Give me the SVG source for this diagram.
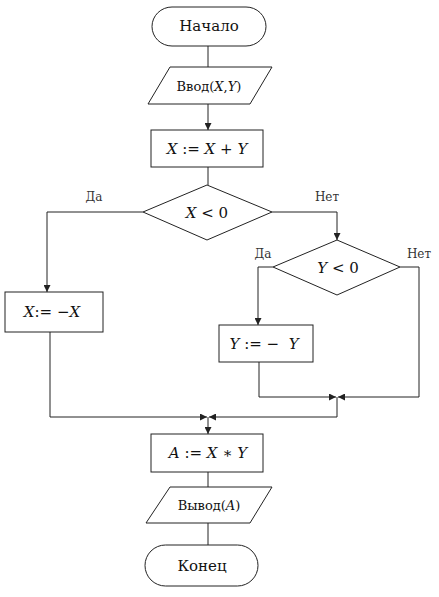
<svg xmlns="http://www.w3.org/2000/svg" width="439" height="597" viewBox="0 0 439 597">
<defs>
<style>
.s{fill:#fff;stroke:#222;stroke-width:1}
.c{fill:none;stroke:#222;stroke-width:1}
.t{fill:#111;text-anchor:middle;font-family:'DejaVu Serif',serif}
.m{font-size:15px}
.sm{font-size:13px}
.b{font-size:15px}
.l{font-size:12px;fill:#333;text-anchor:middle;font-family:'DejaVu Serif',serif}
.i{font-style:italic}
</style>
<marker id="a" viewBox="0 0 10 10" refX="10" refY="5" markerWidth="7" markerHeight="7" orient="auto" markerUnits="userSpaceOnUse">
<path d="M0,0 L10,5 L0,10 z" fill="#222"/>
</marker>
</defs>
<rect width="439" height="597" fill="#fff"/>
<g id="connectors">
<path class="c" d="M208,46 V67"/>
<path class="c" d="M208,104 V130" marker-end="url(#a)"/>
<path class="c" d="M208,167 V185"/>
<path class="c" d="M143,212 H47 V292" marker-end="url(#a)"/>
<path class="c" d="M272,212 H337 V240" marker-end="url(#a)"/>
<path class="c" d="M273,267 H258 V325" marker-end="url(#a)"/>
<path class="c" d="M400,267 H419 V397 H338" marker-end="url(#a)"/>
<path class="c" d="M259,362 V397 H336" marker-end="url(#a)"/>
<path class="c" d="M337,397 V417 H209" marker-end="url(#a)"/>
<path class="c" d="M50,332 V417 H207" marker-end="url(#a)"/>
<path class="c" d="M208,417 V434" marker-end="url(#a)"/>
<path class="c" d="M208,472 V487"/>
<path class="c" d="M208,523 V545"/>
</g>
<g id="start">
<rect class="s" x="152" y="7" width="114" height="39" rx="20" ry="19.5"/>
<text class="t b" x="209" y="31">Начало</text>
</g>
<g id="input">
<polygon class="s" points="170,67 272,67 250,104 148,104"/>
<text class="t sm" x="209" y="91">Ввод(<tspan class="i">X</tspan>,<tspan class="i">Y</tspan>)</text>
</g>
<g id="sum">
<rect class="s" x="151" y="130" width="112" height="37"/>
<text class="t m" x="207" y="154"><tspan class="i">X</tspan> := <tspan class="i">X</tspan> + <tspan class="i">Y</tspan></text>
</g>
<g id="cond-x">
<polygon class="s" points="207,185 272,212 207,240 143,212"/>
<text class="t m" x="207" y="218"><tspan class="i">X</tspan> &lt; 0</text>
</g>
<text class="l" x="94" y="201">Да</text>
<text class="l" x="327" y="201">Нет</text>
<g id="neg-x">
<rect class="s" x="5" y="292" width="98" height="40"/>
<text class="t m" x="52" y="317"><tspan class="i">X</tspan>:= −<tspan class="i">X</tspan></text>
</g>
<g id="cond-y">
<polygon class="s" points="337,240 400,267 337,295 273,267"/>
<text class="t m" x="338" y="273"><tspan class="i">Y</tspan> &lt; 0</text>
</g>
<text class="l" x="263" y="258">Да</text>
<text class="l" x="419" y="258">Нет</text>
<g id="neg-y">
<rect class="s" x="219" y="325" width="94" height="37"/>
<text class="t m" x="264" y="349" xml:space="preserve"><tspan class="i">Y</tspan> := −  <tspan class="i">Y</tspan></text>
</g>
<g id="product">
<rect class="s" x="151" y="434" width="112" height="38"/>
<text class="t m" x="208" y="458"><tspan class="i">A</tspan> := <tspan class="i">X</tspan> ∗ <tspan class="i">Y</tspan></text>
</g>
<g id="output">
<polygon class="s" points="170,487 272,487 250,523 146,523"/>
<text class="t sm" x="209" y="510">Вывод(<tspan class="i">A</tspan>)</text>
</g>
<g id="end">
<rect class="s" x="145" y="545" width="113" height="41" rx="20.5" ry="20.5"/>
<text class="t b" x="202" y="571">Конец</text>
</g>
</svg>
